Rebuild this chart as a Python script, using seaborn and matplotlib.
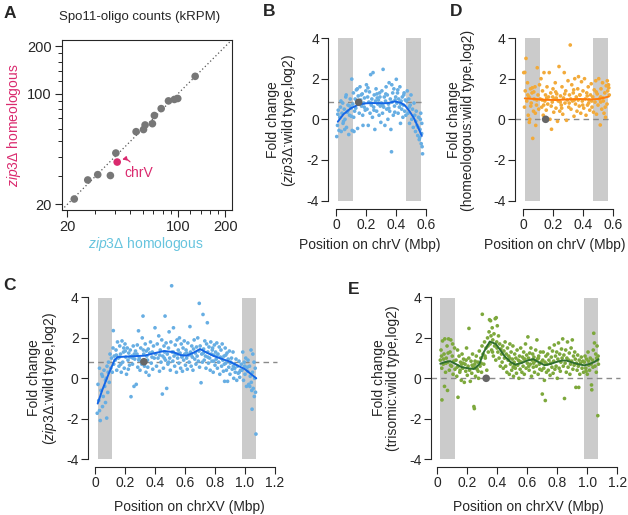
import numpy as np
import pandas as pd
import matplotlib
matplotlib.use('Agg')
import matplotlib.pyplot as plt
import matplotlib.ticker as mticker
import seaborn as sns

# ---- datos panel A (kRPM por cromosoma) ----
a_homologous = [22.1, 26.9, 31.1, 37.4, 40.5, 54.4, 60.6, 62.0, 69.0, 71.0, 78.4, 87.2, 95.0, 99.8, 128.6]
a_homeologous = [21.6, 28.5, 30.8, 30.4, 42.2, 57.6, 59.4, 63.5, 64.7, 72.9, 80.6, 90.2, 92.1, 93.4, 129.0]
chrV_homologous = 41.3
chrV_homeologous = 37.0

# ---- panel B: zip3 / wild type en chrV ----
b_x = [0.005, 0.010, 0.015, 0.020, 0.025, 0.030, 0.035, 0.040, 0.045, 0.050,
       0.055, 0.060, 0.065, 0.070, 0.075, 0.080, 0.085, 0.090, 0.095, 0.100,
       0.105, 0.108, 0.012, 0.033, 0.058, 0.078, 0.092, 0.047, 0.068, 0.102,
       0.112, 0.116, 0.120, 0.124, 0.128, 0.132, 0.136, 0.140, 0.144, 0.148,
       0.155, 0.160, 0.165, 0.170, 0.175, 0.180, 0.185, 0.190, 0.195, 0.199,
       0.118, 0.142, 0.168, 0.188, 0.152, 0.178,
       0.203, 0.207, 0.211, 0.215, 0.219, 0.223, 0.227, 0.231, 0.235, 0.239,
       0.243, 0.247, 0.251, 0.255, 0.259, 0.263, 0.267, 0.271, 0.275, 0.279,
       0.283, 0.287, 0.291, 0.295, 0.299, 0.213, 0.233, 0.253, 0.273, 0.293,
       0.302, 0.306, 0.310, 0.314, 0.318, 0.322, 0.326, 0.330, 0.334, 0.338,
       0.342, 0.346, 0.350, 0.354, 0.358, 0.362, 0.366, 0.370, 0.374, 0.378,
       0.382, 0.386, 0.390, 0.394, 0.398, 0.312, 0.332, 0.352, 0.372, 0.392,
       0.402, 0.406, 0.410, 0.414, 0.418, 0.422, 0.426, 0.430, 0.434, 0.438,
       0.442, 0.446, 0.450, 0.454, 0.458, 0.462, 0.466, 0.412, 0.432, 0.452,
       0.470, 0.475, 0.480, 0.485, 0.490, 0.495, 0.500, 0.505, 0.510, 0.515,
       0.520, 0.525, 0.530, 0.535, 0.540, 0.545, 0.550, 0.555, 0.560, 0.565,
       0.568, 0.571, 0.574, 0.577, 0.562, 0.548, 0.558, 0.572, 0.488, 0.532]
b_y = [-0.85, -0.30, 0.45, -0.55, 0.10, 0.60, -0.60, 0.30, 0.80, -0.10,
       0.50, 0.00, 1.10, -0.40, 0.35, 0.70, -0.75, 0.20, 1.00, 0.55,
       1.98, -0.55, 0.25, 0.90, -0.50, 0.40, 0.65, -0.20, 1.20, 0.15,
       0.75, 1.30, -0.60, 0.40, 1.00, 0.55, 1.45, 0.85, -0.45, 1.15,
       0.30, 1.60, 0.95, 0.65, 1.25, -0.30, 0.80, 1.05, 0.45, 1.40,
       0.10, 1.50, 1.20, 0.60, 0.90, 0.20,
       1.70, 0.50, 1.10, -0.30, 0.85, 1.35, 0.30, 2.20, 0.70, 1.00,
       0.10, 2.30, 0.60, 1.20, -0.50, 0.90, 1.50, 0.40, 1.05, 0.75,
       0.95, 0.20, 1.30, 0.65, -0.15, 1.55, 0.80, 0.45, 1.25, 1.10,
       0.80, 1.40, 0.30, 2.46, 0.60, 1.10, -0.30, 0.90, 1.60, 0.50,
       1.20, 0.00, 0.75, 1.80, 0.40, 1.00, -0.50, -1.60, 0.85, 1.30,
       0.20, 1.50, 0.65, 0.95, 1.10, 0.70, 1.25, 0.55, 1.70, 0.35,
       1.97, 0.80, 1.30, 0.30, 1.00, 0.60, 1.60, -0.20, 0.90, 0.50,
       1.10, 0.10, 0.70, 1.30, 0.40, 0.95, 0.20, 1.45, 0.75, 1.20,
       0.90, 1.40, 0.30, 1.00, -0.20, 0.70, 1.20, 0.00, 0.50, -0.40,
       0.80, 0.20, -0.60, 0.40, -0.30, -0.80, 0.10, -1.00, -0.50, 0.30,
       -1.20, -0.70, -1.35, -1.70, 0.00, -0.40, -0.90, -0.20, 0.60, -0.10]
b_fit_x = [0.012, 0.05, 0.10, 0.15, 0.20, 0.25, 0.30, 0.35, 0.39, 0.43, 0.46, 0.49, 0.52, 0.545, 0.572]
b_fit_y = [-0.12, 0.25, 0.55, 0.72, 0.79, 0.80, 0.79, 0.80, 0.88, 0.82, 0.68, 0.40, 0.05, -0.35, -0.82]

# ---- panel D: homeologous / wild type en chrV ----
d_x = [0.005, 0.010, 0.015, 0.020, 0.025, 0.030, 0.035, 0.040, 0.045, 0.050,
       0.055, 0.060, 0.065, 0.070, 0.075, 0.080, 0.085, 0.090, 0.095, 0.100,
       0.105, 0.110, 0.012, 0.032, 0.052, 0.072, 0.092, 0.042, 0.062, 0.082,
       0.115, 0.120, 0.125, 0.130, 0.135, 0.140, 0.145, 0.150, 0.155, 0.160,
       0.165, 0.170, 0.175, 0.180, 0.185, 0.190, 0.195, 0.200, 0.205, 0.210,
       0.215, 0.220, 0.225, 0.230, 0.235, 0.240, 0.245, 0.250, 0.255, 0.260,
       0.265, 0.270, 0.275, 0.280, 0.285, 0.290, 0.295, 0.300, 0.305, 0.310,
       0.315, 0.320, 0.325, 0.330, 0.335, 0.340, 0.345, 0.350, 0.355, 0.360,
       0.365, 0.370, 0.375, 0.380, 0.385, 0.390, 0.395, 0.400, 0.405, 0.410,
       0.415, 0.420, 0.425, 0.430, 0.435, 0.440, 0.445, 0.450, 0.455, 0.460,
       0.465, 0.470, 0.475, 0.480, 0.485, 0.490, 0.495, 0.500, 0.505, 0.510,
       0.515, 0.520, 0.525, 0.530, 0.535, 0.540, 0.545, 0.550, 0.555, 0.560,
       0.565, 0.570, 0.575, 0.562, 0.548, 0.532, 0.518, 0.572, 0.222, 0.342,
       0.128, 0.158, 0.188, 0.218, 0.248, 0.278, 0.308, 0.338, 0.368, 0.398,
       0.428, 0.458, 0.488, 0.518, 0.138, 0.198, 0.258, 0.318, 0.378, 0.438]
d_y = [2.30, 0.60, 1.40, 3.00, 0.90, 1.80, 0.20, 1.10, 0.00, 1.50,
       0.80, 1.30, -0.94, 0.40, 1.00, 1.60, -0.30, 0.70, 2.54, 1.20,
       0.50, 1.70, 2.31, 1.20, 0.65, 1.35, 0.95, -0.15, 1.55, 0.30,
       1.00, 2.00, 0.60, 1.40, 0.20, 2.30, 0.90, 1.20, 0.45, 1.60,
       0.75, 1.10, 2.30, 0.00, 1.30, -0.49, 0.85, 1.50, 0.35, 1.00,
       1.80, 0.55, 1.25, -0.10, 0.90, 2.60, 0.40, 1.15, 0.70, 1.60,
       0.25, 1.05, 2.30, 0.80, 1.40, -0.05, 0.95, 1.90, 0.60, 1.20,
       3.66, 0.50, 1.70, 0.90, 1.30, 0.15, 2.00, 0.75, 1.10, 0.40,
       1.50, 2.10, 0.65, 1.20, 0.30, 1.85, 0.90, 1.40, 0.55, 2.00,
       1.00, 0.20, 1.30, 0.70, 1.60, 0.95, 0.45, 1.20, 1.75, 0.60,
       1.10, 0.35, 1.45, 0.85, 1.90, 0.25, 1.25, 0.70, 2.00, 1.00,
       -0.28, 1.50, 0.50, 1.80, 0.90, 0.30, 1.30, 0.10, 1.65, 0.75,
       1.40, 1.70, 1.20, 1.90, 0.60, 1.05, 0.85, 1.55, 1.05, 0.95,
       0.95, 1.05, 0.65, 1.35, 0.85, 1.25, 0.80, 1.45, 0.95, 0.70,
       1.15, 0.90, 1.35, 1.10, 0.70, 1.10, 0.55, 1.00, 1.20, 0.80]
d_fit_x = [0.012, 0.08, 0.15, 0.22, 0.30, 0.38, 0.45, 0.50, 0.54, 0.572]
d_fit_y = [1.03, 1.00, 0.96, 0.95, 0.98, 1.00, 0.98, 1.00, 1.06, 1.12]

# ---- panel C: zip3 / wild type en chrXV ----
c_x = [0.015, 0.020, 0.025, 0.030, 0.035, 0.040, 0.045, 0.050, 0.055, 0.060,
       0.065, 0.070, 0.075, 0.078, 0.080, 0.085, 0.090, 0.095, 0.100, 0.105,
       0.110, 0.115, 0.120, 0.122, 0.125, 0.128, 0.030, 0.050, 0.070, 0.088,
       0.135, 0.140, 0.145, 0.150, 0.155, 0.160, 0.165, 0.170, 0.175, 0.180,
       0.185, 0.190, 0.195, 0.200, 0.205, 0.210, 0.215, 0.220, 0.225, 0.230,
       0.235, 0.240, 0.245, 0.250, 0.255, 0.260, 0.265, 0.270, 0.275, 0.280,
       0.285, 0.290, 0.295, 0.300, 0.305, 0.310, 0.315, 0.320, 0.325, 0.330,
       0.335, 0.340, 0.345, 0.350, 0.355, 0.360, 0.365, 0.370, 0.375, 0.380,
       0.385, 0.390, 0.395, 0.400, 0.142, 0.172, 0.202, 0.232, 0.262, 0.292,
       0.322, 0.352, 0.382, 0.162, 0.192, 0.222, 0.252, 0.282, 0.312, 0.342,
       0.405, 0.410, 0.415, 0.420, 0.425, 0.430, 0.435, 0.440, 0.445, 0.449,
       0.452, 0.456, 0.460, 0.464, 0.467, 0.470, 0.474, 0.478, 0.482, 0.486,
       0.490, 0.494, 0.498, 0.502, 0.506, 0.511, 0.515, 0.519, 0.523, 0.527,
       0.531, 0.535, 0.539, 0.543, 0.547, 0.551, 0.555, 0.559, 0.563, 0.567,
       0.571, 0.575, 0.579, 0.583, 0.587, 0.591, 0.595, 0.599, 0.603, 0.607,
       0.611, 0.615, 0.619, 0.623, 0.627, 0.633, 0.637, 0.641, 0.645, 0.649,
       0.653, 0.657, 0.661, 0.665, 0.669, 0.673, 0.677, 0.681, 0.685, 0.689,
       0.693, 0.697, 0.432, 0.462, 0.492, 0.522, 0.552, 0.582, 0.612, 0.642,
       0.695, 0.701, 0.707, 0.712, 0.716, 0.720, 0.724, 0.728, 0.732, 0.736,
       0.740, 0.744, 0.749, 0.752, 0.756, 0.760, 0.764, 0.768, 0.772, 0.776,
       0.780, 0.784, 0.788, 0.792, 0.796, 0.800, 0.804, 0.808, 0.812, 0.816,
       0.820, 0.824, 0.828, 0.832, 0.836, 0.840, 0.844, 0.848, 0.852, 0.856,
       0.860, 0.864, 0.868, 0.872, 0.876, 0.880, 0.884, 0.888, 0.892, 0.896,
       0.900, 0.905, 0.910, 0.915, 0.920, 0.925, 0.930, 0.935, 0.940, 0.945,
       0.950, 0.955, 0.960, 0.965, 0.970, 0.975, 0.722, 0.752, 0.782, 0.812,
       0.842, 0.872, 0.902, 0.932, 0.962, 0.792, 0.862, 0.922,
       0.980, 0.985, 0.990, 0.995, 1.000, 1.005, 1.010, 1.015, 1.020, 1.025,
       1.030, 1.035, 1.040, 1.045, 1.047, 1.050, 1.055, 1.060, 1.065, 1.070,
       1.073, 1.062, 1.052, 1.042, 1.032, 0.998, 1.018, 1.068]
c_y = [-1.73, -0.30, -1.10, 0.50, -2.09, -0.60, 0.20, -1.40, -0.90, 0.40,
       -0.40, -1.20, 0.00, -1.97, 0.60, -0.70, 0.80, -0.20, 1.20, 0.50,
       1.00, 0.30, 1.50, 2.36, 0.70, 1.10, -1.60, 0.10, -0.10, 0.30,
       0.90, 1.40, 0.40, 1.80, 1.00, 0.60, 1.60, 1.20, 0.30, 1.85,
       0.80, 1.30, 0.50, 1.70, 1.05, 0.20, 1.50, 0.90, 1.25, 0.65,
       1.40, -0.91, 1.10, 0.70, 1.60, -0.40, 0.95, 1.35, -0.30, 1.20,
       0.55, 2.35, 1.00, 0.40, 1.50, 0.85, 2.00, 3.08, 1.20, 0.60,
       1.70, 0.30, 1.10, 0.90, 1.45, 0.15, 1.25, 1.80, 0.75, 1.05,
       0.45, 1.60, 1.00, 2.50, 1.15, 0.70, 1.35, 1.05, 1.20, 0.90,
       1.40, 0.55, 1.30, 1.05, 1.50, 0.45, 1.00, 1.65, 0.70, 1.35,
       1.20, 0.60, 1.70, 1.00, 2.10, 0.35, 1.40, 0.80, 1.90, -0.78,
       1.10, 0.50, 1.60, 1.30, 3.08, 0.90, 1.75, -0.50, 1.20, 0.70,
       1.50, 2.30, 1.00, 0.40, 1.80, 4.58, 1.30, 0.85, 2.50, 1.10,
       0.60, 1.65, 1.20, 0.30, 1.90, 1.00, 1.40, 0.75, 2.00, 1.25,
       0.50, 1.70, 1.05, 0.35, 1.50, 0.90, 1.85, 1.20, 0.65, 1.40,
       1.00, 0.45, 1.75, 1.15, 0.80, 2.56, 1.30, 0.60, 1.60, 1.05,
       0.40, 1.45, 1.90, 0.95, 1.25, 0.70, 1.55, 1.10, 2.00, 0.85,
       1.35, 0.55, 1.15, 1.00, 0.80, 1.30, 1.20, 1.10, 1.25, 1.15,
       3.71, 1.60, -0.22, 1.20, 0.80, 3.16, 1.45, 0.90, 1.85, 1.10,
       0.50, 1.70, 2.75, 1.30, 0.75, 1.55, 1.00, 0.40, 1.80, 1.20,
       0.85, 1.50, 0.30, 1.15, 1.65, 0.65, 1.30, 0.95, 1.75, 0.50,
       1.20, 0.80, 1.55, 0.20, 1.05, 1.40, 0.60, 1.70, 0.90, 0.35,
       1.10, -0.15, 1.50, 0.75, 0.40, 1.25, -0.15, 0.95, 0.55, 1.35,
       0.20, 0.80, 1.00, 0.45, 1.30, 0.00, 0.70, 0.30, 0.95, -0.10,
       0.60, 0.25, 0.85, 0.05, 0.40, 0.70, 1.25, 1.05, 1.40, 1.10,
       1.00, 1.15, 0.75, 0.50, 0.30, 0.85, 0.70, 0.60,
       0.40, 1.30, -0.10, 0.80, 0.20, 1.00, -0.40, 0.55, 0.90, -0.30,
       0.60, 0.10, 1.40, -0.60, -1.53, 0.30, -0.50, 0.80, 0.00, -0.69,
       -2.76, -0.90, 1.20, -0.20, -0.40, 0.60, 0.35, 0.50]
c_fit_x = [0.018, 0.05, 0.09, 0.13, 0.15, 0.22, 0.33, 0.40, 0.46, 0.52, 0.57, 0.61, 0.66, 0.70, 0.75, 0.80, 0.90, 1.00, 1.075]
c_fit_y = [-1.25, -0.55, 0.20, 0.90, 1.05, 1.08, 1.12, 1.25, 1.35, 1.30, 1.15, 1.12, 1.28, 1.45, 1.25, 1.08, 0.82, 0.45, 0.00]

# ---- panel E: trisomic / wild type en chrXV ----
e_x = [0.020, 0.025, 0.030, 0.031, 0.035, 0.040, 0.045, 0.048, 0.050, 0.055,
       0.060, 0.065, 0.068, 0.070, 0.075, 0.080, 0.085, 0.090, 0.095, 0.100,
       0.105, 0.110, 0.115, 0.118, 0.028, 0.042, 0.058, 0.072, 0.088, 0.102,
       0.125, 0.130, 0.135, 0.138, 0.140, 0.145, 0.150, 0.155, 0.160, 0.165,
       0.170, 0.175, 0.180, 0.185, 0.190, 0.195, 0.200, 0.205, 0.210, 0.211,
       0.215, 0.220, 0.225, 0.230, 0.235, 0.240, 0.244, 0.247, 0.250, 0.255,
       0.260, 0.265, 0.270, 0.275, 0.280, 0.285, 0.290, 0.295, 0.298, 0.300,
       0.132, 0.152, 0.172, 0.192, 0.232, 0.252, 0.272, 0.292, 0.162, 0.262,
       0.305, 0.310, 0.315, 0.320, 0.325, 0.330, 0.335, 0.340, 0.345, 0.348,
       0.352, 0.355, 0.358, 0.362, 0.366, 0.370, 0.374, 0.378, 0.382, 0.386,
       0.390, 0.393, 0.396, 0.400, 0.404, 0.408, 0.412, 0.416, 0.420, 0.424,
       0.428, 0.432, 0.436, 0.440, 0.444, 0.448, 0.318, 0.338, 0.368, 0.398,
       0.452, 0.456, 0.460, 0.464, 0.468, 0.472, 0.476, 0.480, 0.484, 0.488,
       0.492, 0.496, 0.500, 0.504, 0.508, 0.512, 0.516, 0.520, 0.524, 0.528,
       0.532, 0.536, 0.540, 0.544, 0.548, 0.552, 0.556, 0.560, 0.564, 0.568,
       0.572, 0.576, 0.580, 0.584, 0.588, 0.592, 0.596, 0.600, 0.604, 0.608,
       0.612, 0.616, 0.620, 0.624, 0.628, 0.632, 0.636, 0.640, 0.644, 0.648,
       0.652, 0.656, 0.660, 0.664, 0.668, 0.672, 0.676, 0.680, 0.684, 0.688,
       0.692, 0.696, 0.482, 0.514, 0.546, 0.578, 0.610, 0.642, 0.674, 0.506,
       0.700, 0.703, 0.706, 0.710, 0.714, 0.718, 0.720, 0.724, 0.728, 0.732,
       0.736, 0.740, 0.744, 0.748, 0.752, 0.756, 0.760, 0.764, 0.768, 0.772,
       0.776, 0.780, 0.784, 0.788, 0.792, 0.796, 0.800, 0.804, 0.808, 0.812,
       0.816, 0.820, 0.824, 0.828, 0.832, 0.836, 0.840, 0.844, 0.848, 0.852,
       0.856, 0.860, 0.864, 0.868, 0.872, 0.876, 0.880, 0.884, 0.888, 0.892,
       0.896, 0.900, 0.904, 0.908, 0.912, 0.916, 0.920, 0.924, 0.928, 0.932,
       0.936, 0.940, 0.943, 0.946, 0.950, 0.955, 0.960, 0.965, 0.970, 0.975,
       0.980, 0.985, 0.990, 0.995, 1.000, 1.005, 1.010, 1.015, 1.020, 1.025,
       1.028, 1.030, 1.035, 1.040, 1.043, 1.048, 1.052, 1.056, 1.060, 1.065,
       1.068, 1.070, 1.072, 1.074, 0.992, 1.008, 1.038, 1.062]
e_y = [0.90, 1.40, 0.50, -1.07, 1.85, 0.70, 1.20, -0.40, 1.95, 0.30,
       1.00, 1.60, -0.60, 0.80, 1.95, 0.40, 1.30, 1.90, 0.60, 1.10,
       0.20, 0.85, 1.50, 0.45, 1.10, 0.95, 0.75, 1.25, 0.65, 1.70,
       0.90, 0.10, 1.40, -0.94, 0.60, 1.10, 0.30, 0.80, -0.10, 1.20,
       0.50, 0.95, -0.20, 0.70, 0.35, 1.50, 0.15, 0.60, 1.00, 2.47,
       0.40, -0.15, 0.85, 0.25, 1.20, 0.55, -1.40, -1.50, 0.70, 0.10,
       1.10, 0.45, 0.80, 0.00, 1.35, 0.60, 1.00, 0.30, 1.60, 3.17,
       0.55, 0.40, 0.75, 0.90, 0.65, 0.85, 0.35, 0.75, 0.70, 0.50,
       1.20, 0.70, 1.80, 1.00, 1.50, 0.40, 2.00, 1.30, 2.30, 2.90,
       1.70, 2.85, 2.10, 1.40, 2.50, 1.90, 1.10, 2.20, 1.60, 2.95,
       0.90, 3.00, 1.80, 2.60, 1.30, 2.10, 1.00, 1.70, 0.60, 1.45,
       1.20, 0.80, 1.60, 0.50, 1.35, 1.00, 1.10, 1.60, 1.30, 1.50,
       1.80, 0.60, 1.20, 0.30, 1.50, 0.90, 1.10, 0.20, 1.70, 0.70,
       1.30, 0.40, 0.95, 1.60, 0.10, 0.80, 1.20, 0.50, 1.00, 0.25,
       1.40, 0.65, 0.90, 0.00, 1.10, 0.45, 1.50, 0.80, 0.30, 1.05,
       0.60, 1.30, 0.20, 0.95, 1.70, 0.50, 1.15, 0.75, 2.05, 1.00,
       0.40, 1.25, 0.70, 1.50, 0.10, 0.90, 1.20, 0.55, 1.05, 0.30,
       0.85, 1.40, 0.60, 1.90, 0.95, 0.20, 1.10, 0.70, 0.45, 1.30,
       0.80, 0.40, 1.00, 0.65, 0.85, 0.95, 0.60, 0.75, 1.00, 0.55,
       -0.78, 0.90, 1.30, 0.50, -0.10, 0.80, -1.10, 1.10, 0.30, 0.70,
       1.20, 0.40, 0.90, 1.50, 0.15, 0.75, 1.05, 0.55, 1.35, 0.25,
       0.85, 1.65, 0.45, 1.10, 0.60, 1.30, 0.00, 0.95, 1.75, 0.50,
       1.20, 0.35, 0.80, 1.45, 1.00, 1.95, 0.60, 1.15, -1.00, 0.75,
       1.40, 0.30, 1.00, 1.80, 0.55, 0.90, 1.25, 0.20, 0.70, 1.50,
       0.85, 1.90, 0.45, 1.10, 0.65, 1.30, 0.95, -0.45, 0.75, 0.40,
       1.15, 0.60, -0.45, 0.90, 0.20, 0.75, 1.05, 0.50, 0.85, 0.30,
       0.80, 1.10, 0.50, 0.95, 0.20, 1.30, 0.65, 0.40, 1.00, 0.70,
       -0.33, -0.57, 0.90, 1.40, 2.23, 1.75, 0.60, 1.20, 0.30, 1.60,
       0.90, -1.85, 1.10, 0.70, 0.35, 0.85, 0.55, 1.00]
e_fit_x = [0.02, 0.05, 0.085, 0.12, 0.16, 0.20, 0.245, 0.28, 0.31, 0.35, 0.39, 0.42, 0.45, 0.49, 0.52,
           0.56, 0.60, 0.64, 0.68, 0.715, 0.75, 0.79, 0.83, 0.86, 0.90, 0.94, 0.98, 1.02, 1.05, 1.075]
e_fit_y = [0.72, 0.80, 0.85, 0.72, 0.56, 0.50, 0.46, 0.70, 1.30, 1.82, 1.70, 1.40, 1.08, 0.80, 0.68,
           0.75, 0.88, 0.95, 0.78, 0.65, 0.70, 0.80, 0.88, 0.88, 0.78, 0.70, 0.64, 0.72, 0.82, 0.95]

# regiones subteloméricas (bandas grises) y centrómeros
chrV_bands = [(0.012, 0.113), (0.468, 0.569)]
chrXV_bands = [(0.020, 0.115), (0.978, 1.073)]
chrV_cen = 0.151
chrXV_cen = 0.326

# ---- estilo ----
sns.set_style('ticks')
plt.rcParams['font.family'] = ['Liberation Sans', 'DejaVu Sans']
plt.rcParams['mathtext.fontset'] = 'custom'
plt.rcParams['mathtext.rm'] = 'Liberation Sans'
plt.rcParams['mathtext.it'] = 'Liberation Sans:italic'

W, H = 628, 515
fig = plt.figure(figsize=(W / 100, H / 100), dpi=100)

PINK = '#DA2A6E'
LBLUE = '#66C4DE'


def rect(left, top, right, bottom):
    return [left / W, 1 - bottom / H, (right - left) / W, (bottom - top) / H]


def ftext(x, y, s, **kw):
    fig.text(x / W, 1 - y / H, s, **kw)


# ---- panel A ----
axA = fig.add_axes(rect(61.7, 40, 231.7, 210))
lim = (18.4, 219)
axA.plot(lim, lim, ls=(0, (1, 2)), color='#555555', lw=0.9, zorder=1)
dfA = pd.DataFrame({'hom': a_homologous, 'homeo': a_homeologous})
sns.scatterplot(data=dfA, x='hom', y='homeo', ax=axA, color='#777777', s=30,
                edgecolor='none', zorder=3)
axA.scatter([chrV_homologous], [chrV_homeologous], color=PINK, s=30, zorder=4, edgecolor='none')
axA.set_xscale('log')
axA.set_yscale('log')
axA.set_xlim(lim)
axA.set_ylim(lim)
for axis in (axA.xaxis, axA.yaxis):
    axis.set_major_locator(mticker.FixedLocator([20, 100, 200]))
    axis.set_major_formatter(mticker.FixedFormatter(['20', '100', '200']))
    axis.set_minor_locator(mticker.FixedLocator([30, 40, 50, 60, 70, 80, 90, 120, 140, 160, 180]))
    axis.set_minor_formatter(mticker.NullFormatter())
axA.tick_params(which='major', length=5, width=0.8, labelsize=10.5, pad=2)
axA.tick_params(which='minor', length=3, width=0.7)
for sp in axA.spines.values():
    sp.set_linewidth(0.8)
axA.set_xlabel('')
axA.set_ylabel('')
axA.annotate('chrV', xy=(chrV_homologous, chrV_homeologous), xytext=(5, -8),
             textcoords='offset points', ha='left', va='center', color=PINK, fontsize=10,
             arrowprops=dict(arrowstyle='-|>', color=PINK, lw=0.9, mutation_scale=6,
                             connectionstyle='arc3,rad=0.6', relpos=(0.3, 1.0),
                             shrinkA=1, shrinkB=4))
ftext(140, 17, 'Spo11-oligo counts (kRPM)', ha='center', va='center', fontsize=9.5)
ftext(14, 125, '$\\mathit{zip3}$\u0394 homeologous', rotation=90, ha='center', va='center',
      color=PINK, fontsize=10)
ftext(146, 244, '$\\mathit{zip3}$\u0394 homologous', ha='center', va='center',
      color=LBLUE, fontsize=10)


# ---- paneles de fold change ----
def fc_panel(geom, x0, y0, ysc, xs, ys, fx, fy, bands, cen, ref, ref_end,
             pcol, lcol, xmax_tick, xticks, xtl, ylab, xlab, lab_x, ylab_y, xlab_x, xlab_y):
    left, top, right, bottom = geom
    ax = fig.add_axes(rect(left, top, right, bottom))
    ax.set_xlim((left - x0) / 150.0, (right - x0) / 150.0)
    ax.set_ylim((y0 - bottom) / ysc, (y0 - top) / ysc)
    for a, b in bands:
        ax.fill_between([a, b], -4, 4, color='#CBCBCB', lw=0, zorder=0)
    ax.hlines(ref, (left - x0) / 150.0, ref_end, colors='#8A8A8A', lw=1.0,
              linestyles=(0, (4, 3)), zorder=1)
    df = pd.DataFrame({'pos': xs, 'fc': ys})
    sns.scatterplot(data=df, x='pos', y='fc', ax=ax, color=pcol, s=7, edgecolor='none',
                    zorder=2, clip_on=False)
    dfl = pd.DataFrame({'pos': fx, 'fc': fy})
    sns.lineplot(data=dfl, x='pos', y='fc', ax=ax, color=lcol, lw=1.4, sort=False,
                 estimator=None, zorder=3)
    ax.scatter([cen], [ref], color='#666666', s=30, zorder=4, edgecolor='none')
    ax.set_xticks(xticks)
    ax.set_xticklabels(xtl)
    ax.set_yticks([-4, -2, 0, 2, 4])
    ax.set_yticklabels(['-4', '-2', '0', '2', '4'])
    ax.spines['top'].set_visible(False)
    ax.spines['right'].set_visible(False)
    ax.spines['left'].set_bounds(-4, 4)
    ax.spines['bottom'].set_bounds(0, xmax_tick)
    for sp in ('left', 'bottom'):
        ax.spines[sp].set_linewidth(0.8)
    ax.tick_params(length=5, width=0.8, labelsize=10, pad=1.5)
    ax.set_xlabel('')
    ax.set_ylabel('')
    ftext(lab_x, ylab_y, ylab, rotation=90, ha='center', va='center', fontsize=10,
          linespacing=1.0, multialignment='center')
    ftext(xlab_x, xlab_y, xlab, ha='center', va='center', fontsize=10)
    return ax


zip_lab = 'Fold change\n($\\mathit{zip3\u0394}$:wild type,log2)'
fc_panel((328, 33, 432, 209), 336, 119.3, 20.3, b_x, b_y, b_fit_x, b_fit_y,
         chrV_bands, chrV_cen, 0.84, 0.575, '#67AEE3', '#1466E6', 0.6,
         [0, 0.2, 0.4, 0.6], ['0', '0.2', '0.4', '0.6'],
         zip_lab, 'Position on chrV (Mbp)', 282, 120, 370, 245)
fc_panel((514.7, 33, 619, 209), 523, 119.3, 20.3, d_x, d_y, d_fit_x, d_fit_y,
         chrV_bands, chrV_cen, 0.0, 0.58, '#F2AA3A', '#FF7A0A', 0.6,
         [0, 0.2, 0.4, 0.6], ['0', '0.2', '0.4', '0.6'],
         'Fold change\n(homeologous:wild type,log2)', 'Position on chrV (Mbp)', 461, 120, 555, 245)
fc_panel((87.7, 280, 281, 466.7), 95, 378.3, 20.2, c_x, c_y, c_fit_x, c_fit_y,
         chrXV_bands, chrXV_cen, 0.82, 1.21, '#67AEE3', '#1466E6', 1.2,
         [0, 0.2, 0.4, 0.6, 0.8, 1.0, 1.2], ['0', '0.2', '0.4', '0.6', '0.8', '1.0', '1.2'],
         zip_lab, 'Position on chrXV (Mbp)', 43, 378, 189, 507)
fc_panel((430.7, 280, 624, 466.7), 437.3, 378.3, 20.2, e_x, e_y, e_fit_x, e_fit_y,
         chrXV_bands, chrXV_cen, 0.0, 1.22, '#7DA83C', '#2E6E2E', 1.2,
         [0, 0.2, 0.4, 0.6, 0.8, 1.0, 1.2], ['0', '0.2', '0.4', '0.6', '0.8', '1.0', '1.2'],
         'Fold change\n(trisomic:wild type,log2)', 'Position on chrXV (Mbp)', 386, 378, 528, 507)

# letras de panel
for lab, (lx, ly) in zip(['A', 'B', 'D', 'C', 'E'],
                         [(10, 14), (269, 11), (456, 11), (9, 285), (354, 289)]):
    ftext(lx, ly, lab, ha='center', va='center', fontsize=12.5, fontweight='bold')

plt.savefig('out.png', dpi=100)
